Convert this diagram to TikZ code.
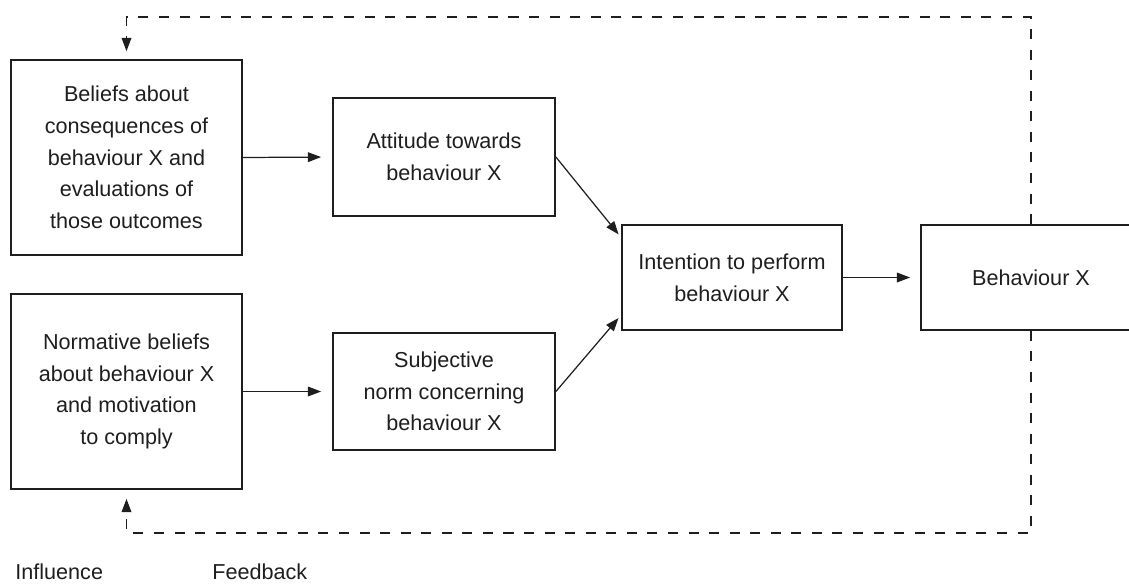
\documentclass[tikz,border=0pt]{standalone}
\usepackage{fontspec}
\setmainfont{Liberation Sans}
\usetikzlibrary{arrows.meta,calc}
\definecolor{linegray}{HTML}{1E1E1E}

\begin{document}
\begin{tikzpicture}[
    box/.style={draw=linegray,line width=1pt,align=center,inner sep=0pt,text=linegray,font=\fontsize{12.3}{18}\selectfont},
    flow/.style={-{Triangle[length=7.5pt,width=5.5pt]},line width=0.7pt,linegray},
    feedback/.style={flow,dash pattern=on 5.7pt off 6pt},
    legend/.style={anchor=base west,inner sep=0pt,text=linegray,font=\fontsize{12.3}{14}\selectfont}
  ]
    \clip (0,0) rectangle (22.58,-11.68);
    \node[box,minimum width=4.62cm,minimum height=3.9cm] (beliefs) at (2.53,-3.15) {Beliefs about\\consequences of\\behaviour X and\\evaluations of\\those outcomes};
    \node[box,minimum width=4.62cm,minimum height=3.9cm] (norms) at (2.53,-7.83) {Normative beliefs\\about behaviour X\\and motivation\\to comply};
    \node[box,minimum width=4.44cm,minimum height=2.36cm] (attitude) at (8.88,-3.14) {Attitude towards\\behaviour X};
    \node[box,minimum width=4.44cm,minimum height=2.34cm] (subjnorm) at (8.88,-7.83) {Subjective\\norm concerning\\behaviour X};
    \node[box,minimum width=4.4cm,minimum height=2.1cm] (intention) at (14.64,-5.55) {Intention to perform\\behaviour X};
    \node[box,minimum width=4.4cm,minimum height=2.1cm] (behaviour) at (20.62,-5.55) {Behaviour X};
    \coordinate (fbtop) at (2.53,-0.34);
    \coordinate (fbbot) at (2.53,-10.66);

    \draw[flow,shorten >=0.22cm] (beliefs.east) -- (attitude.west);
    \draw[flow,shorten >=0.22cm] (norms.east) -- (subjnorm.west);
    \draw[flow,shorten >=0.08cm] (attitude.east) -- ([yshift=0.8cm]intention.west);
    \draw[flow,shorten >=0.08cm] (subjnorm.east) -- ([yshift=-0.75cm]intention.west);
    \draw[flow,shorten >=0.2cm] (intention.east) -- (behaviour.west);
    \draw[feedback,shorten >=0.16cm] (behaviour.north) |- (fbtop) -- (beliefs.north);
    \draw[feedback,shorten >=0.18cm] (behaviour.south) |- (fbbot) -- (norms.south);

    \node[legend] (influence) at (0.3,-11.58) {Influence};
    \node[legend] (feedbacklabel) at (4.24,-11.58) {Feedback};
  \end{tikzpicture}
\end{document}
